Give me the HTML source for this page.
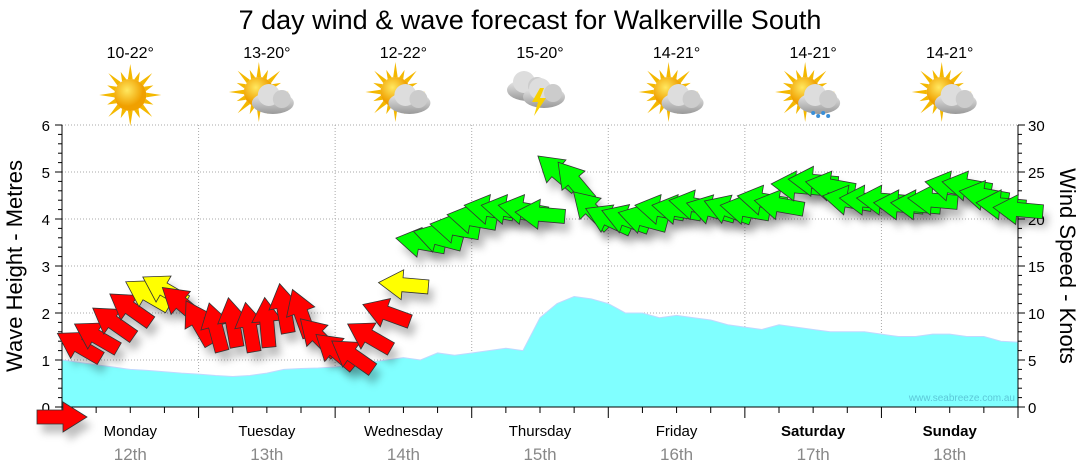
<!DOCTYPE html>
<html><head><meta charset="utf-8"><style>
body{margin:0;background:#fff}
svg{display:block;font-family:"Liberation Sans","DejaVu Sans",sans-serif}
</style></head><body>
<svg id="c" width="1080" height="475" viewBox="0 0 1080 475">
<defs>
<filter id="sh" x="-50%" y="-50%" width="200%" height="200%"><feGaussianBlur stdDeviation="4"/></filter>
<radialGradient id="sun" cx="40%" cy="35%"><stop offset="0" stop-color="#ffe860"/><stop offset="1" stop-color="#f0a000"/></radialGradient>
<linearGradient id="cl" x1="0" y1="0" x2="0" y2="1"><stop offset="0" stop-color="#eee"/><stop offset="1" stop-color="#999"/></linearGradient>
</defs>
<text x="530" y="29" font-size="27" text-anchor="middle" fill="#000">7 day wind &amp; wave forecast for Walkerville South</text>
<g id="grid"></g>
<g id="wave"></g>
<g id="axes"></g>
<g id="wind"></g>
<g id="days"></g>
<text x="1015" y="401" font-size="10" fill="#5cc8d8" text-anchor="end">www.seabreeze.com.au</text>
<text transform="translate(22,266) rotate(-90)" font-size="22" text-anchor="middle">Wave Height - Metres</text>
<text transform="translate(1060,266) rotate(90)" font-size="22" text-anchor="middle">Wind Speed - Knots</text>
</svg>
<script>
const dayNames=["Monday","Tuesday","Wednesday","Thursday","Friday","Saturday","Sunday"];
const dayDates=["12th","13th","14th","15th","16th","17th","18th"];
const temps=["10-22°","13-20°","12-22°","15-20°","14-21°","14-21°","14-21°"];
const icons=["sun","suncloud","suncloud","storm","suncloud","rain","suncloud"];
const waveHeights=[1.0,0.95,0.9,0.85,0.8,0.78,0.75,0.72,
0.7,0.67,0.65,0.67,0.72,0.8,0.82,0.83,
0.85,0.9,0.95,1.0,1.05,1.0,1.15,1.1,
1.15,1.2,1.25,1.2,1.9,2.2,2.35,2.3,
2.2,2.0,2.0,1.9,1.95,1.9,1.85,1.75,
1.7,1.65,1.75,1.7,1.65,1.6,1.6,1.6,
1.55,1.5,1.5,1.55,1.55,1.5,1.5,1.4,1.38];
const windSpeeds=[0,6.5,7.5,9,10.5,12,12.5,11,
9,8.5,9,8.5,9,10.5,10,7.5,
6,5.5,7.5,10,13,17.5,18,19,
20,21,21,21,20.5,25,24,21,
20,20,20,21,21,21.5,21,21,
21,22,21.5,23.5,24,23.5,22,22,
22,21.5,21.5,22,23.5,23.5,22.5,21.5,21];
const windFrom=[270,120,120,125,125,120,120,130,
150,165,170,170,175,170,160,135,
130,125,120,110,95,100,105,100,
100,100,100,100,95,130,140,135,
115,110,105,100,100,100,105,110,
100,100,100,95,95,100,100,95,
95,95,95,95,100,100,100,95,95];
const NS="http://www.w3.org/2000/svg";
const X0=62,X1=1018,Y0=407,Y1=125;
const xH=h=>X0+h*(X1-X0)/168;
const yM=m=>Y0-m*(Y0-Y1)/6;
const yK=k=>Y0-k*(Y0-Y1)/30;
function mk(t,a,p){const e=document.createElementNS(NS,t);for(const k in a)e.setAttribute(k,a[k]);(p||document.getElementById('c')).appendChild(e);return e;}
const grid=document.getElementById('grid'),axes=document.getElementById('axes');
for(let m=1;m<=6;m++){const g=mk('line',{x1:X0,x2:X1,y1:yM(m),y2:yM(m),stroke:'#aaa','stroke-dasharray':'1,2'},grid);

}
for(let d=1;d<7;d++){const g=mk('line',{x1:xH(d*24),x2:xH(d*24),y1:Y1,y2:Y0,stroke:'#aaa','stroke-dasharray':'1,2'},grid);

}
let pts=`${X0},${Y0} ${X0},${yM(waveHeights[0])} `;
waveHeights.forEach((v,i)=>{pts+=`${xH(i*3)},${yM(v)} `;});
pts+=`${X1},${Y0}`;
const wa=mk('polygon',{points:pts,fill:'#80ffff',stroke:'#c0d8ff','stroke-width':1},document.getElementById('wave'));


mk('line',{x1:X0,x2:X0,y1:Y1,y2:Y0,stroke:'#000'},axes);
mk('line',{x1:X1,x2:X1,y1:Y1,y2:Y0,stroke:'#000'},axes);
mk('line',{x1:X0,x2:X1,y1:Y0,y2:Y0,stroke:'#000'},axes);
for(let i=0;i<=30;i++){const y=yM(i*0.2);mk('line',{x1:X0-(i%5?4:7),x2:X0,y1:y,y2:y,stroke:'#000'},axes);}
for(let m=0;m<=6;m++){const t=mk('text',{x:X0-12,y:yM(m)+6,'font-size':15,'text-anchor':'end'},axes);t.textContent=m;

}
for(let k=0;k<=30;k++){const y=yK(k);mk('line',{x1:X1,x2:X1+(k%5?4:7),y1:y,y2:y,stroke:'#000'},axes);}
for(let k=0;k<=30;k+=5){const t=mk('text',{x:X1+10,y:yK(k)+6,'font-size':15},axes);t.textContent=k;

}
for(let h=0;h<=168;h+=6){mk('line',{x1:xH(h),x2:xH(h),y1:Y0,y2:Y0+(h%24?6:11),stroke:'#000'},axes);}
const wind=document.getElementById('wind');
const shape="-25,-7 1,-7 1,-15 25,0 1,15 1,7 -25,7";
windSpeeds.forEach((s,i)=>{
  const x=i===0?X0:xH(i*3),y=i===0?Y0+10:yK(s);
  const ang=(windFrom[i]+180)-90;
  const sh=mk('polygon',{points:shape,fill:'#000','fill-opacity':0.25,filter:'url(#sh)',transform:`translate(${x+5},${y+9}) rotate(${ang})`},wind);
  
  
});
windSpeeds.forEach((s,i)=>{
  const x=i===0?X0:xH(i*3),y=i===0?Y0+10:yK(s);
  const ang=(windFrom[i]+180)-90;
  const col=s<12?'#ff0000':(s<17?'#ffff00':'#00ff00');
  const a=mk('polygon',{points:shape,fill:col,stroke:'#333','stroke-width':0.8,transform:`translate(${x},${y}) rotate(${ang})`},wind);
  
  
});
const days=document.getElementById('days');
function sun(g,cx,cy,r){for(let i=0;i<16;i++){const a=i*Math.PI/8,l=i%2?r+9:r+15;mk('polygon',{points:`${cx+Math.cos(a)*l},${cy+Math.sin(a)*l} ${cx+Math.cos(a+0.15)*r},${cy+Math.sin(a+0.15)*r} ${cx+Math.cos(a-0.15)*r},${cy+Math.sin(a-0.15)*r}`,fill:'#f4b800'},g);}mk('circle',{cx,cy,r,fill:'url(#sun)'},g);}
function cloud(g,cx,cy){mk('ellipse',{cx:cx,cy:cy+4,rx:21,ry:11,fill:'url(#cl)'},g);mk('circle',{cx:cx-4,cy:cy-4,r:11,fill:'#ddd'},g);mk('circle',{cx:cx+9,cy:cy,r:9,fill:'#ccc'},g);}
dayNames.forEach((n,d)=>{
  const cx=xH(d*24+12);
  const tt=mk('text',{x:cx,y:58,'font-size':16,'text-anchor':'middle'},days);tt.textContent=temps[d];
  
  
  const g=mk('g',{},days);
  
  
  const ic=icons[d];
  if(ic==='sun')sun(g,cx,95,16);
  else if(ic==='storm'){cloud(g,cx-12,86);cloud(g,cx+4,93);mk('polygon',{points:`${cx},${88} ${cx-8},${102} ${cx-2},${102} ${cx-6},${116} ${cx+6},${98} ${cx},${98} ${cx+4},${88}`,fill:'#f8d000'},g);}
  else{sun(g,cx-8,92,15);cloud(g,cx+6,99);if(ic==='rain'){for(let k=0;k<4;k++)mk('circle',{cx:cx+k*5,cy:113+(k%2)*3,r:2,fill:'#3a8fd8'},g);}}
  const dn=mk('text',{x:cx,y:436,'font-size':15,'text-anchor':'middle','font-weight':d>=5?'bold':'normal'},days);dn.textContent=n;
  
  
  const dt=mk('text',{x:cx,y:460,'font-size':17,'text-anchor':'middle',fill:'#888'},days);dt.textContent=dayDates[d];
  
  
});
</script>
</body></html>
